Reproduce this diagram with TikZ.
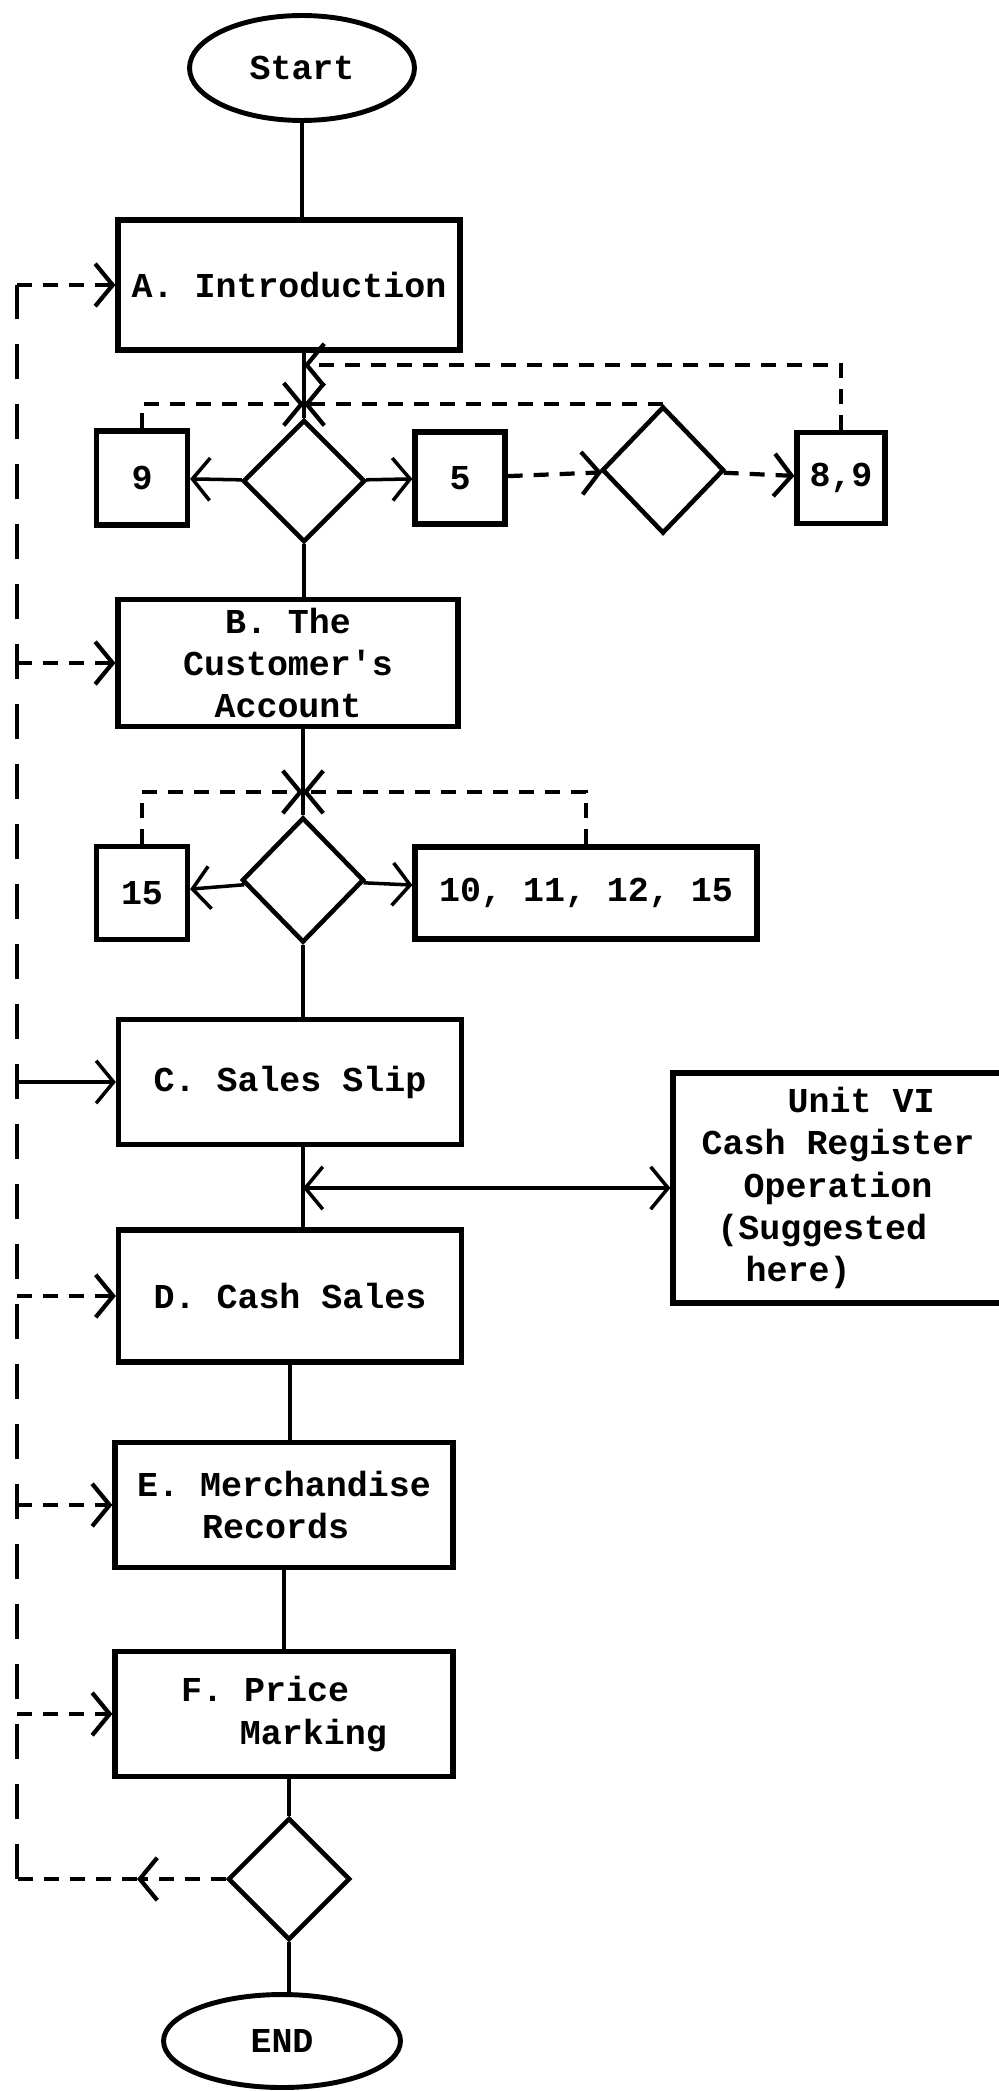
\documentclass[tikz,border=0pt]{standalone}
\usepackage{fontspec}
\setmonofont{Liberation Mono}
\usetikzlibrary{shapes.geometric, arrows.meta, positioning}

\begin{document}
\begin{tikzpicture}[x=0.02cm, y=-0.02cm,
  font=\ttfamily\bfseries\fontsize{19.9}{24}\selectfont,
  >={Straight Barb[length=3.5mm,width=8.5mm]},
  box/.style={draw, line width=3pt, inner sep=2pt},
  decide/.style={draw, diamond, line width=2.6pt, inner sep=0pt, minimum width=24.4mm, minimum height=24.4mm},
  term/.style={draw, ellipse, line width=2.8pt},
  wire/.style={line width=2pt},
  dashline/.style={line width=2.4pt, dash pattern=on 3mm off 2.2mm},
  raildash/.style={line width=2.4pt, dash pattern=on 7mm off 5mm}]
\useasboundingbox (0,0) rectangle (998,2091);

\node[term, minimum width=45mm, minimum height=21mm] (start) at (302,68) {Start};
\node[box, minimum width=68.4mm, minimum height=26mm] (intro) at (289,285) {A. Introduction};
\node[decide] (q1) at (304,481) {};
\node[box, minimum width=18.2mm, minimum height=18.8mm] (n9) at (142,478) {9};
\node[box, minimum width=18mm, minimum height=18.4mm] (n5) at (460,478) {5};
\node[decide, minimum height=25.4mm] (q2) at (663,470) {};
\node[box, minimum width=17.6mm, minimum height=18.2mm] (n89) at (841,478) {8,9};
\node[box, align=center, minimum width=68mm, minimum height=25.4mm] (account) at (288,663) {B. The\\Customer's\\Account};
\node[decide, minimum height=25mm] (q3) at (303,880) {};
\node[box, minimum width=18.2mm, minimum height=18.6mm] (n15) at (142,893) {15};
\node[box, minimum width=68.4mm, minimum height=18.4mm] (n10) at (586,893) {10, 11, 12, 15};
\node[box, minimum width=68.6mm, minimum height=25mm] (slip) at (290,1082) {C. Sales Slip};
\node[box, align=left, minimum width=66mm, minimum height=46mm] (unit) at (838,1188)
  {\hspace{2.46em}Unit VI\\Cash Register\\\hspace{1.2em}Operation\\\hspace{0.45em}(Suggested\\\hspace{1.26em}here)};
\node[box, minimum width=68.6mm, minimum height=26.4mm] (cash) at (290,1296) {D. Cash Sales};
\node[box, align=left, minimum width=67.6mm, minimum height=25mm] (merch) at (284,1505) {E. Merchandise\\\hspace{1.86em}Records};
\node[box, align=left, minimum width=67.6mm, minimum height=25mm] (price) at (284,1714) {F. Price\\\hspace{1.68em}Marking};
\node[decide] (q4) at (289,1879) {};
\node[term, minimum width=47.4mm, minimum height=18.6mm] (finish) at (282,2041) {END};

\coordinate (rail) at (17,0);
\coordinate (loopmid) at (137,1879);
\coordinate (j1) at (q1 |- q2.north);
\coordinate (j2) at (304,365);
\coordinate (j3) at (303,792);
\coordinate (j4) at (303,1188);

% main column
\draw[wire] (start) -- (start |- intro.north);
\draw[wire] (q1.north |- intro.south) -- (q1.north);
\draw[wire] (q1.south) -- (q1.south |- account.north);
\draw[wire] (q3.north |- account.south) -- (q3.north);
\draw[wire] (q3.south) -- (q3.south |- slip.north);
\draw[wire] (q3 |- slip.south) -- (q3 |- cash.north);
\draw[wire] (cash.south) -- (cash.south |- merch.north);
\draw[wire] (merch.south) -- (price.north);
\draw[wire] (q4.north |- price.south) -- (q4.north);
\draw[wire] (q4.south) -- (q4.south |- finish.north);

% branches
\draw[wire,->] (q1) -- (n9);
\draw[wire,->] (q1) -- (n5);
\draw[dashline,->] (n5) -- (q2);
\draw[dashline,->] (q2) -- (n89);
\draw[dashline,->] (n9.north) |- (j1);
\draw[dashline,->] (q2.north) -- (j1);
\draw[dashline,->] (n89.north) |- (j2);
\draw[wire,->] (q3) -- (n15);
\draw[wire,->] (q3) -- (n10);
\draw[dashline,->] (n15.north) |- (j3);
\draw[dashline,->] (n10.north) |- (j3);
\draw[wire,<->] (j4) -- (unit.west);

% return loop
\draw[dashline,->] (q4.west) -- (loopmid);
\draw[dashline] (loopmid) -- (q4.west -| rail);
\draw[raildash] (q4.west -| rail) -- (intro.west -| rail);
\draw[dashline,->] (intro.west -| rail) -- (intro.west);
\draw[dashline,->] (account.west -| rail) -- (account.west);
\draw[wire,->] (slip.west -| rail) -- (slip.west);
\draw[dashline,->] (cash.west -| rail) -- (cash.west);
\draw[dashline,->] (merch.west -| rail) -- (merch.west);
\draw[dashline,->] (price.west -| rail) -- (price.west);
\end{tikzpicture}
\end{document}
